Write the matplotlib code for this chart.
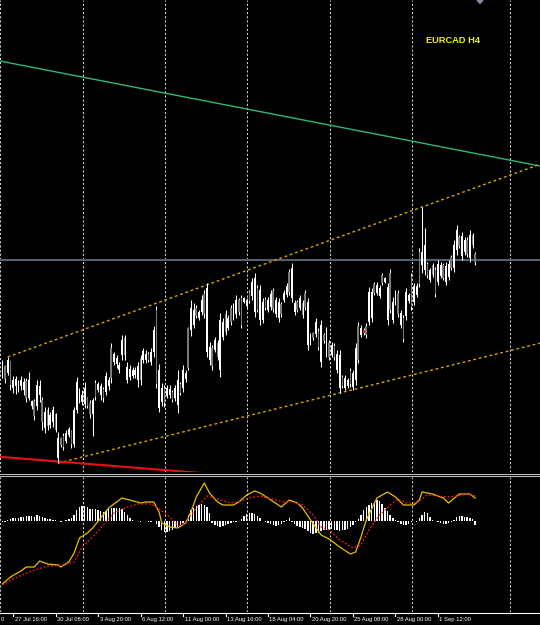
import matplotlib
matplotlib.use("Agg")
import matplotlib.pyplot as plt
import matplotlib.transforms as mtransforms
from matplotlib import font_manager
from matplotlib.lines import Line2D
from matplotlib.patches import Polygon
import numpy as np

# ---------------- data ----------------
title_text = "EURCAD H4"

high = [1.5540,1.5535,1.5543,1.5539,1.5524,1.5524,1.5520,1.5524,1.5522,1.5522,
        1.5528,1.5500,1.5501,1.5520,1.5520,1.5503,1.5493,1.5493,1.5488,1.5494,
        1.5487,1.5468,1.5463,1.5467,1.5470,1.5473,1.5470,1.5493,1.5523,1.5512,
        1.5510,1.5518,1.5503,1.5500,1.5502,1.5520,1.5518,1.5517,1.5513,1.5528,
        1.5523,1.5557,1.5548,1.5545,1.5538,1.5565,1.5565,1.5538,1.5535,1.5533,
        1.5533,1.5538,1.5545,1.5552,1.5550,1.5548,1.5552,1.5574,1.5594,1.5536,
        1.5517,1.5515,1.5515,1.5515,1.5510,1.5515,1.5530,1.5518,1.5535,1.5530,
        1.5573,1.5600,1.5597,1.5595,1.5590,1.5605,1.5610,1.5617,1.5558,1.5555,
        1.5563,1.5560,1.5587,1.5582,1.5590,1.5585,1.5595,1.5597,1.5605,1.5602,
        1.5605,1.5603,1.5602,1.5610,1.5622,1.5627,1.5615,1.5615,1.5602,1.5603,
        1.5603,1.5610,1.5612,1.5603,1.5602,1.5598,1.5610,1.5617,1.5631,1.5637,
        1.5600,1.5600,1.5605,1.5600,1.5610,1.5602,1.5567,1.5568,1.5582,1.5572,
        1.5580,1.5567,1.5573,1.5560,1.5558,1.5557,1.5550,1.5550,1.5525,1.5525,
        1.5522,1.5532,1.5530,1.5557,1.5578,1.5575,1.5572,1.5577,1.5613,1.5612,
        1.5618,1.5618,1.5615,1.5627,1.5623,1.5617,1.5631,1.5603,1.5610,1.5610,
        1.5590,1.5585,1.5612,1.5607,1.5627,1.5617,1.5617,1.5652,1.5693,1.5672,
        1.5638,1.5632,1.5637,1.5633,1.5640,1.5638,1.5637,1.5638,1.5640,1.5645,
        1.5660,1.5675,1.5665,1.5668,1.5663,1.5663,1.5670,1.5667,1.5648]

low = [1.5522,1.5517,1.5525,1.5510,1.5507,1.5506,1.5508,1.5510,1.5505,1.5498,
       1.5500,1.5491,1.5480,1.5490,1.5498,1.5470,1.5467,1.5470,1.5472,1.5473,
       1.5468,1.5437,1.5453,1.5450,1.5457,1.5463,1.5452,1.5453,1.5487,1.5497,
       1.5495,1.5492,1.5492,1.5482,1.5464,1.5500,1.5508,1.5500,1.5498,1.5505,
       1.5510,1.5517,1.5535,1.5532,1.5527,1.5540,1.5540,1.5517,1.5520,1.5522,
       1.5522,1.5513,1.5515,1.5537,1.5537,1.5538,1.5535,1.5543,1.5512,1.5488,
       1.5494,1.5493,1.5502,1.5502,1.5498,1.5499,1.5487,1.5505,1.5508,1.5518,
       1.5530,1.5564,1.5572,1.5582,1.5580,1.5585,1.5582,1.5543,1.5535,1.5530,
       1.5548,1.5540,1.5523,1.5560,1.5565,1.5570,1.5575,1.5580,1.5582,1.5585,
       1.5572,1.5597,1.5592,1.5597,1.5600,1.5583,1.5588,1.5575,1.5577,1.5590,
       1.5588,1.5590,1.5588,1.5583,1.5578,1.5583,1.5598,1.5603,1.5605,1.5598,
       1.5585,1.5588,1.5590,1.5582,1.5590,1.5550,1.5555,1.5560,1.5563,1.5550,
       1.5533,1.5557,1.5543,1.5540,1.5543,1.5540,1.5527,1.5507,1.5512,1.5510,
       1.5512,1.5513,1.5510,1.5515,1.5537,1.5563,1.5565,1.5562,1.5575,1.5578,
       1.5605,1.5605,1.5602,1.5615,1.5617,1.5575,1.5587,1.5577,1.5595,1.5583,
       1.5572,1.5558,1.5580,1.5597,1.5590,1.5595,1.5603,1.5613,1.5627,1.5625,
       1.5622,1.5618,1.5623,1.5603,1.5615,1.5622,1.5620,1.5615,1.5620,1.5630,
       1.5628,1.5645,1.5652,1.5640,1.5645,1.5643,1.5638,1.5652,1.5635]

open_ = [1.5536,1.5521,1.5540,1.5515,1.5520,1.5521,1.5517,1.5520,1.5518,1.5502,
         1.5520,1.5499,1.5484,1.5515,1.5514,1.5478,1.5488,1.5474,1.5485,1.5490,
         1.5470,1.5462,1.5455,1.5453,1.5467,1.5471,1.5456,1.5490,1.5518,1.5510,
         1.5505,1.5512,1.5494,1.5486,1.5500,1.5503,1.5516,1.5514,1.5502,1.5524,
         1.5520,1.5522,1.5546,1.5542,1.5535,1.5560,1.5545,1.5533,1.5531,1.5530,
         1.5530,1.5534,1.5520,1.5549,1.5546,1.5540,1.5548,1.5570,1.5516,1.5530,
         1.5512,1.5497,1.5512,1.5511,1.5500,1.5512,1.5520,1.5507,1.5530,1.5527,
         1.5532,1.5592,1.5590,1.5584,1.5588,1.5600,1.5586,1.5612,1.5553,1.5534,
         1.5560,1.5543,1.5580,1.5578,1.5568,1.5582,1.5578,1.5594,1.5600,1.5588,
         1.5575,1.5602,1.5600,1.5599,1.5618,1.5622,1.5590,1.5610,1.5598,1.5592,
         1.5600,1.5606,1.5591,1.5600,1.5598,1.5586,1.5607,1.5614,1.5608,1.5632,
         1.5597,1.5590,1.5602,1.5585,1.5593,1.5598,1.5565,1.5562,1.5578,1.5553,
         1.5575,1.5559,1.5569,1.5543,1.5555,1.5543,1.5546,1.5545,1.5514,1.5522,
         1.5520,1.5516,1.5527,1.5552,1.5540,1.5572,1.5570,1.5565,1.5608,1.5608,
         1.5607,1.5615,1.5612,1.5617,1.5622,1.5613,1.5590,1.5598,1.5607,1.5586,
         1.5587,1.5561,1.5608,1.5605,1.5593,1.5614,1.5614,1.5616,1.5648,1.5655,
         1.5625,1.5630,1.5625,1.5606,1.5636,1.5635,1.5622,1.5634,1.5636,1.5632,
         1.5655,1.5670,1.5654,1.5664,1.5660,1.5646,1.5665,1.5655,1.5638]

close = [1.5526,1.5534,1.5527,1.5538,1.5512,1.5514,1.5512,1.5514,1.5510,1.5519,
         1.5502,1.5494,1.5499,1.5494,1.5505,1.5500,1.5472,1.5490,1.5475,1.5478,
         1.5486,1.5442,1.5462,1.5464,1.5459,1.5465,1.5469,1.5456,1.5490,1.5500,
         1.5498,1.5496,1.5502,1.5497,1.5486,1.5517,1.5510,1.5505,1.5511,1.5508,
         1.5514,1.5552,1.5538,1.5536,1.5530,1.5545,1.5562,1.5520,1.5523,1.5524,
         1.5525,1.5520,1.5542,1.5540,1.5540,1.5546,1.5538,1.5548,1.5590,1.5492,
         1.5498,1.5512,1.5504,1.5505,1.5508,1.5502,1.5495,1.5516,1.5512,1.5521,
         1.5572,1.5570,1.5575,1.5592,1.5582,1.5588,1.5606,1.5548,1.5540,1.5552,
         1.5550,1.5557,1.5530,1.5563,1.5586,1.5572,1.5592,1.5583,1.5586,1.5600,
         1.5602,1.5598,1.5594,1.5608,1.5604,1.5588,1.5612,1.5580,1.5580,1.5601,
         1.5590,1.5593,1.5609,1.5586,1.5582,1.5596,1.5600,1.5605,1.5628,1.5602,
         1.5588,1.5598,1.5592,1.5597,1.5607,1.5555,1.5557,1.5567,1.5566,1.5569,
         1.5538,1.5565,1.5547,1.5557,1.5545,1.5554,1.5530,1.5512,1.5523,1.5512,
         1.5514,1.5529,1.5513,1.5520,1.5574,1.5565,1.5567,1.5574,1.5578,1.5582,
         1.5616,1.5607,1.5604,1.5625,1.5618,1.5580,1.5627,1.5580,1.5597,1.5607,
         1.5575,1.5582,1.5584,1.5599,1.5624,1.5598,1.5605,1.5648,1.5635,1.5630,
         1.5636,1.5620,1.5635,1.5630,1.5618,1.5624,1.5635,1.5618,1.5623,1.5643,
         1.5632,1.5650,1.5663,1.5644,1.5648,1.5660,1.5642,1.5665,1.5646]

marked_bars = [136]

# MACD-style histogram (indicator units)
hist = [-1,-1,1,2,3,3,3,4,4,5,
        5,5,4,6,5,4,3,2,2,1,
        1,0,-1,0,1,2,3,6,11,14,
        15,15,14,12,12,12,11,10,9,10,
        12,13,13,13,13,12,9,6,3,1,
        0,0,-1,0,0,-1,-1,0,-3,-6,
        -9,-11,-11,-10,-9,-7,-6,-4,-2,0,
        6,11,13,15,16,17,16,14,8,-2,
        -4,-5,-6,-5,-4,-3,-2,-1,-1,0,
        2,5,7,8,8,7,5,3,0,-1,
        -2,-3,-4,-5,-4,-3,-1,1,3,-1,
        -3,-5,-6,-7,-8,-10,-12,-13,-12,-12,
        -10,-9,-9,-9,-8,-9,-9,-10,-9,-9,
        -8,-6,-4,-1,2,6,11,14,16,18,
        19,21,20,17,13,10,6,3,1,-1,
        -3,-4,-4,-3,-1,0,-1,3,6,9,
        8,4,1,0,-1,-2,-3,-3,-2,-1,
        1,4,5,5,4,4,3,2,-4]

osc_bars = [0,3,7,9,12,14,17,21,22,25,27,29,32,34,37,40,43,45,48,52,
            54,57,59,60,63,66,69,71,73,76,78,81,83,87,89,92,95,97,100,105,
            108,111,113,116,120,123,127,131,133,135,137,141,145,148,151,155,157,158,162,166,
            168,172,176,178]
osc_vals = [-63,-56,-50,-46,-46,-40,-43,-44,-46,-41,-32,-17,-12,-7,3,13,19,23,21,18,
            19,19,9,-2,-6,-7,-2,9,24,38,28,19,16,16,19,26,30,28,23,14,
            21,18,13,1,-14,-18,-26,-33,-31,-16,1,23,29,24,16,16,21,29,27,23,
            18,27,27,23]

sig_bars = [0,4,10,17,23,27,30,34,38,42,47,51,56,59,63,66,68,72,75,77,
            81,86,89,93,97,100,106,109,113,117,120,123,127,132,135,138,142,146,149,152,
            156,160,164,167,171,175,178]
sig_vals = [-64,-58,-51,-45,-44,-41,-26,-16,-4,8,14,17,17,12,4,-4,-4,9,19,25,
            22,18,19,23,25,23,19,19,16,6,-6,-9,-19,-27,-24,-9,6,16,22,18,
            18,26,25,24,25,27,25]

hline_price = 1.5640
green_line = [(0, 1.58385), (178, 1.57466)]
upper_channel = [(2, 1.5543), (158, 1.5693)]
lower_channel = [(21, 1.5437), (127, 1.5507)]
red_line = [(0, 1.5443), (70, 1.5428)]

edge_label = "0"          # tail of the label cut by the left edge
tick_bars = [4, 20, 36, 52, 68, 84, 100, 116, 132, 148, 164]
tick_labels = ["27 Jul 16:00", "30 Jul 08:00", "3 Aug 20:00",
               "6 Aug 12:00", "11 Aug 00:00", "13 Aug 16:00", "18 Aug 04:00",
               "20 Aug 20:00", "25 Aug 08:00", "28 Aug 00:00", "1 Sep 12:00"]
grid_bars = [-0.72, 30.35, 61.2, 92.1, 123.3, 154.2, 191.1]

# ---------------- helpers ----------------
W, H = 540, 625


def pick_font(cands):
    for c in cands:
        try:
            font_manager.findfont(font_manager.FontProperties(family=c),
                                  fallback_to_default=False)
            return c
        except Exception:
            pass
    return "DejaVu Sans"


narrow = pick_font(["Liberation Sans Narrow", "DejaVu Sans Condensed", "Liberation Sans"])
narrow_size = 5.0 if narrow != "Liberation Sans" else 4.2
bold_font = pick_font(["Liberation Sans", "DejaVu Sans"])


def fy(px):
    return 1 - px / H


XLIM = (-0.9036, 202.41)

fig = plt.figure(figsize=(W / 100, H / 100), dpi=100, facecolor="black")

# main price window
ax = fig.add_axes([0, fy(472), 1, 472 / H])
ax.set_facecolor("black")
ax.set_xlim(*XLIM)
ax.set_ylim(1.5428, 1.5900)
ax.set_axis_off()

# indicator window
ax2 = fig.add_axes([0, fy(612), 1, 135 / H])
ax2.set_facecolor("black")
ax2.set_xlim(*XLIM)
ax2.set_ylim(-91, 44)
ax2.set_axis_off()

grid_style = dict(color="#d8d8d8", lw=0.75, ls=(0, (2, 2)), zorder=0)
for g in grid_bars:
    ax.axvline(g, **grid_style)
    ax2.axvline(g, **grid_style)

# horizontal level
ax.axhline(hline_price, color="#566170", lw=1.5, zorder=1)

# candles
o = np.array(open_)
c = np.array(close)
hi = np.array(high)
lo = np.array(low)
idx = np.arange(len(c))
ax.vlines(idx, lo, hi, color="white", lw=0.75, zorder=3)
bull = c >= o
ax.bar(idx[bull], (c - o)[bull], bottom=o[bull], width=0.62,
       color="#7a7a7a", linewidth=0, zorder=4)
ax.bar(idx[~bull], (o - c)[~bull], bottom=c[~bull], width=0.62,
       color="white", linewidth=0, zorder=4)
for m in marked_bars:
    ax.bar([m], [abs(o[m] - c[m])], bottom=[min(o[m], c[m])], width=0.7,
           color="#ff1010", linewidth=0, zorder=5)


def ray(axis, p1, p2, start, end, **kw):
    (x1, y1), (x2, y2) = p1, p2
    k = (y2 - y1) / (x2 - x1)
    axis.plot([start, end], [y1 + k * (start - x1), y1 + k * (end - x1)], **kw)


ray(ax, *green_line, XLIM[0], XLIM[1], color="#2fb877", lw=1.0, zorder=2)
ray(ax, *upper_channel, upper_channel[0][0], XLIM[1], color="#d6a800", lw=1.0,
    ls=(0, (2, 2)), zorder=2)
ray(ax, *lower_channel, lower_channel[0][0], XLIM[1], color="#d6a800", lw=1.0,
    ls=(0, (2, 2)), zorder=2)
ray(ax, *red_line, XLIM[0], XLIM[1], color="#e81010", lw=1.5, zorder=2)

# indicator
ax2.bar(np.arange(len(hist)), hist, width=0.55, color="white", linewidth=0, zorder=2)
ax2.plot(osc_bars, osc_vals, color="#e8c000", lw=0.9, zorder=3)
ax2.plot(sig_bars, sig_vals, color="#ff1a1a", lw=0.9, ls=(0, (1.5, 1.5)), zorder=4)

# separators
for yy in (473.5, 475.5):
    fig.add_artist(Line2D([0, 1], [fy(yy), fy(yy)], transform=fig.transFigure,
                          color="#b8b8b8", lw=0.8))
fig.add_artist(Line2D([0, 1], [fy(612.5), fy(612.5)], transform=fig.transFigure,
                      color="white", lw=0.8))

# time axis
bt = mtransforms.blended_transform_factory(ax2.transData, fig.transFigure)
off = mtransforms.ScaledTranslation(1.5 / 100, 0, fig.dpi_scale_trans)
for b, lab in zip(tick_bars, tick_labels):
    fig.add_artist(Line2D([b, b], [fy(612.5), fy(616)], transform=bt,
                          color="white", lw=0.8))
    fig.text(b, fy(619.5), lab, transform=bt + off, color="white",
             fontsize=narrow_size, family=narrow, ha="left", va="center")
fig.text(0.3 / W, fy(619.5), edge_label, color="white", fontsize=narrow_size,
         family=narrow, ha="left", va="center")

# title
fig.text(426 / W, fy(40.5), title_text, color="#f2f200", fontsize=6.7,
         family=bold_font, fontweight="bold", ha="left", va="center")

# chart-shift marker
tri = Polygon([[477 / W, fy(0)], [483 / W, fy(0)], [480 / W, fy(3.5)]],
              closed=True, transform=fig.transFigure, color="#8090a8")
fig.add_artist(tri)

fig.savefig("out.png", dpi=100, facecolor="black")
